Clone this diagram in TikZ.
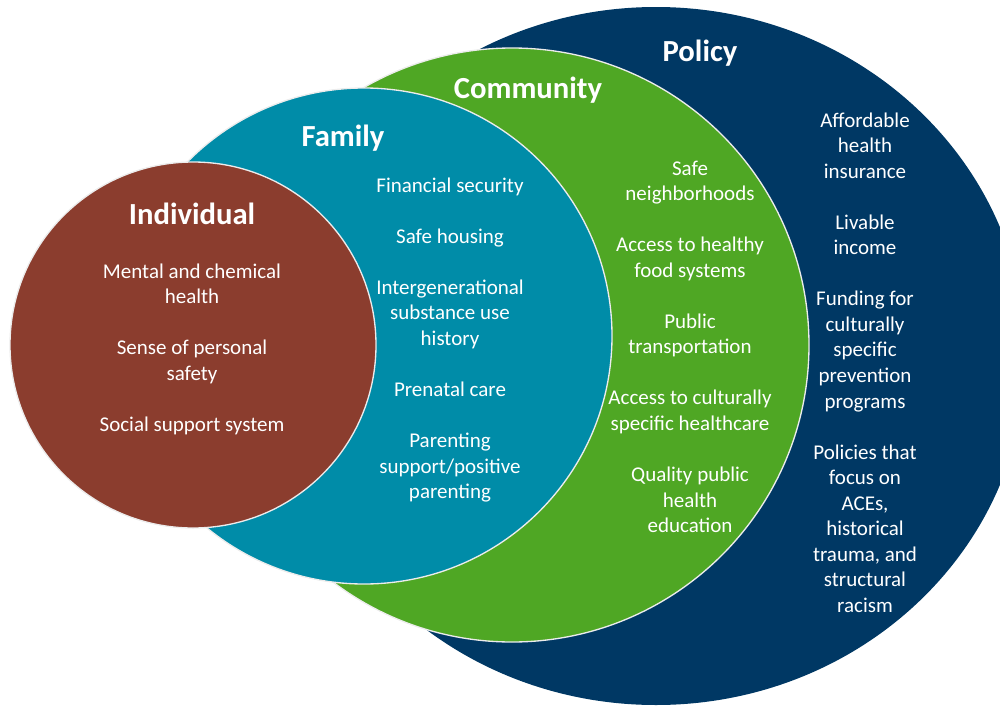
\documentclass[tikz,border=0pt]{standalone}
\usepackage{fontspec}
\setmainfont{Carlito}

\definecolor{policyblue}{RGB}{0,56,100}
\definecolor{communitygreen}{RGB}{79,167,36}
\definecolor{familyteal}{RGB}{0,140,168}
\definecolor{individualbrown}{RGB}{139,61,46}

\begin{document}
\begin{tikzpicture}[x=0.75pt, y=-0.75pt,
	layer/.style={draw=gray!15, line width=1pt},
	title/.style={font=\fontsize{23}{28}\selectfont\bfseries, text=white, anchor=base, inner sep=0pt},
	entry/.style={font=\fontsize{15.75}{19.16}\selectfont, text=white, anchor=base, inner sep=0pt}
	]
	\useasboundingbox (0,0) rectangle (1000,707);
	\clip (0,0) rectangle (1000,707);

	% the four levels, outermost first
	\fill [policyblue] (656,356) ellipse [x radius=370, y radius=349];
	\fill [communitygreen, layer] (512,345) circle [radius=297];
	\fill [familyteal, layer] (364,336) circle [radius=248];
	\fill [individualbrown, layer] (193,345) circle [radius=183];

	\node (poltitle) [title] at (700,61) {Policy};
	\node (comtitle) [title] at (528,98) {Community};
	\node (famtitle) [title] at (343,146) {Family};
	\node (indtitle) [title] at (192,224) {Individual};

	% one line per entry, 25.55px apart; skipped numbers are the blank lines
	\foreach \n/\t in {0/Mental and chemical, 1/health, 3/Sense of personal, 4/safety,
		6/Social support system}
		\node (ind\n) [entry] at (192,{278+25.55*\n}) {\t};

	\foreach \n/\t in {0/Financial security, 2/Safe housing, 4/Intergenerational,
		5/substance use, 6/history, 8/Prenatal care, 10/Parenting, 11/support\slash positive,
		12/parenting}
		\node (fam\n) [entry] at (450,{192+25.55*\n}) {\t};

	\foreach \n/\t in {0/Safe, 1/neighborhoods, 3/Access to healthy, 4/food systems,
		6/Public, 7/transportation, 9/Access to culturally, 10/specific healthcare,
		12/Quality public, 13/health, 14/education}
		\node (com\n) [entry] at (690,{175+25.55*\n}) {\t};

	\foreach \n/\t in {0/Affordable, 1/health, 2/insurance, 4/Livable, 5/income,
		7/Funding for, 8/culturally, 9/specific, 10/prevention, 11/programs,
		13/Policies that, 14/focus on, {15/ACEs,}, 16/historical, {17/trauma, and},
		18/structural, 19/racism}
		\node (pol\n) [entry] at (865,{127+25.55*\n}) {\t};
\end{tikzpicture}
\end{document}
